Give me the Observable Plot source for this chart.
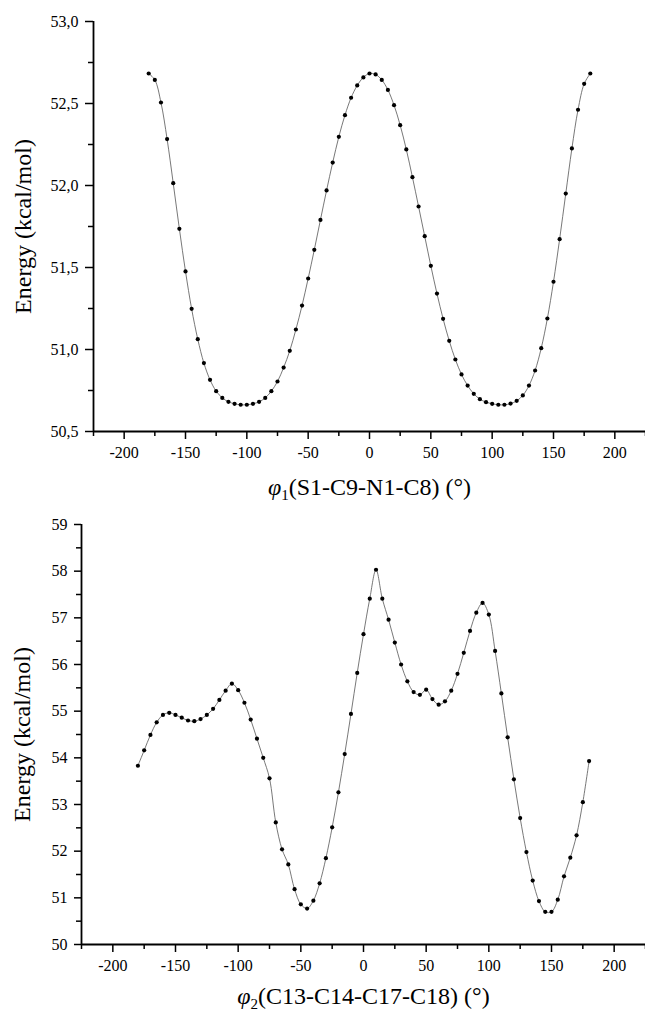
<!DOCTYPE html>
<html>
<head>
<meta charset="utf-8">
<script src="https://cdn.jsdelivr.net/npm/d3@7"></script>
<script src="https://cdn.jsdelivr.net/npm/@observablehq/plot@0.6"></script>
<style>
  html, body { margin: 0; padding: 0; background: #fff; }
  #chart svg { display: block; }
</style>
</head>
<body>
<div id="chart"></div>
<script>
// Dihedral angles (°)
const angles = [-180,-175,-170,-165,-160,-155,-150,-145,-140,-135,-130,-125,-120,-115,-110,-105,-100,-95,-90,-85,-80,-75,-70,-65,-60,-55,-50,-45,-40,-35,-30,-25,-20,-15,-10,-5,0,5,10,15,20,25,30,35,40,45,50,55,60,65,70,75,80,85,90,95,100,105,110,115,120,125,130,135,140,145,150,155,160,165,170,175,180];

// φ1 scan energies (kcal/mol)
const energyPhi1 = [52.683,52.644,52.506,52.283,52.014,51.736,51.476,51.248,51.063,50.917,50.815,50.746,50.705,50.681,50.669,50.663,50.663,50.669,50.681,50.705,50.746,50.805,50.890,50.992,51.122,51.268,51.433,51.608,51.790,51.970,52.140,52.297,52.429,52.535,52.610,52.659,52.683,52.677,52.644,52.583,52.490,52.368,52.220,52.051,51.872,51.691,51.510,51.341,51.187,51.053,50.939,50.848,50.780,50.730,50.697,50.679,50.669,50.663,50.663,50.670,50.687,50.720,50.780,50.872,51.008,51.189,51.413,51.673,51.951,52.226,52.462,52.620,52.683];

// φ2 scan energies (kcal/mol)
const energyPhi2 = [53.83,54.16,54.49,54.76,54.92,54.965,54.92,54.86,54.80,54.785,54.83,54.92,55.05,55.24,55.44,55.59,55.45,55.18,54.82,54.41,54.00,53.56,52.615,52.04,51.715,51.185,50.86,50.77,50.94,51.31,51.85,52.51,53.26,54.08,54.94,55.82,56.65,57.41,58.03,57.41,56.96,56.47,56.00,55.64,55.41,55.35,55.46,55.26,55.14,55.21,55.44,55.80,56.25,56.72,57.11,57.32,57.07,56.29,55.38,54.44,53.54,52.71,51.98,51.37,50.93,50.70,50.70,50.96,51.46,51.86,52.34,53.05,53.93];

// Axes
const xDomain = [-225, 225];
const xMajorTicks = [-200,-150,-100,-50,0,50,100,150,200];
const xMinorTicks = [-225,-175,-125,-75,-25,25,75,125,175,225];

const yDomain1 = [50.5, 53.0];
const yMajorTicks1 = [50.5,51.0,51.5,52.0,52.5,53.0];
const yMinorTicks1 = [50.75,51.25,51.75,52.25,52.75];

const yDomain2 = [50, 59];
const yMajorTicks2 = [50,51,52,53,54,55,56,57,58,59];
const yMinorTicks2 = [50.5,51.5,52.5,53.5,54.5,55.5,56.5,57.5,58.5];

const yTitle = "Energy (kcal/mol)";
const xTitle1 = "φ1(S1-C9-N1-C8) (°)";
const xTitle2 = "φ2(C13-C14-C17-C18) (°)";

const FONT = "'Liberation Serif', 'Times New Roman', Times, serif";

function panel({energies, yDomain, yMajor, yMinor, yFmt, xTitle, height, mTop, mBottom, mLeft, yTick, yPad, xTitleDy, yTitleDx}) {
  const data = angles.map((a, i) => ({angle: a, energy: energies[i]}));
  const svg = Plot.plot({
    width: 645,
    height,
    marginTop: mTop,
    marginBottom: mBottom,
    marginLeft: mLeft,
    marginRight: 0,
    style: {fontFamily: FONT, background: "#fff", color: "#000", overflow: "visible"},
    x: {domain: xDomain},
    y: {domain: yDomain},
    marks: [
      Plot.axisX(xMajorTicks, {anchor: "bottom", tickSize: 8, tickPadding: 7, strokeWidth: 1.5, fontSize: 16, fontFamily: FONT, tickFormat: d => String(d), label: null}),
      Plot.axisX(xMinorTicks, {anchor: "bottom", tickSize: 5, strokeWidth: 1.5, text: null, label: null}),
      Plot.axisY(yMajor, {anchor: "left", tickSize: yTick, tickPadding: yPad, strokeWidth: 1.5, fontSize: 16, fontFamily: FONT, tickFormat: yFmt, label: null}),
      Plot.axisY(yMinor, {anchor: "left", tickSize: 5, strokeWidth: 1.5, text: null, label: null}),
      Plot.ruleX([xDomain[0]], {stroke: "#000", strokeWidth: 1.8}),
      Plot.ruleY([yDomain[0]], {stroke: "#000", strokeWidth: 1.8}),
      Plot.line(data, {x: "angle", y: "energy", stroke: "#555", strokeWidth: 0.8, curve: "catmull-rom"}),
      Plot.dot(data, {x: "angle", y: "energy", r: 2.1, fill: "#000", stroke: "none"}),
      Plot.text([yTitle], {frameAnchor: "left", rotate: -90, dx: yTitleDx, fontSize: 24, fontFamily: FONT, fill: "#000", textAnchor: "middle"}),
      Plot.text([xTitle], {frameAnchor: "bottom", lineAnchor: "bottom", dy: xTitleDy, fontSize: 24, fontFamily: FONT, fill: "#000", textAnchor: "middle"})
    ]
  });
  // Style the φ with subscript index
  d3.select(svg).selectAll("text").each(function() {
    const t = this.textContent;
    if (t === xTitle) {
      const sel = d3.select(this);
      sel.text(null);
      sel.append("tspan").attr("font-style", "italic").text(t[0]);
      sel.append("tspan").attr("font-size", 15).attr("dy", 5).text(t[1]);
      sel.append("tspan").attr("dy", -5).text(t.slice(2));
    }
  });
  return svg;
}

const comma1 = d => d.toFixed(1).replace(".", ",");
const chart = document.getElementById("chart");

chart.appendChild(panel({
  energies: energyPhi1, yDomain: yDomain1, yMajor: yMajorTicks1, yMinor: yMinorTicks1, yFmt: comma1,
  xTitle: xTitle1, height: 510, mTop: 21, mBottom: 79, mLeft: 93, yTick: 8, yPad: 7, xTitleDy: 63, yTitleDx: -70
}));
chart.appendChild(panel({
  energies: energyPhi2, yDomain: yDomain2, yMajor: yMajorTicks2, yMinor: yMinorTicks2, yFmt: d => String(d),
  xTitle: xTitle2, height: 509, mTop: 14, mBottom: 75, mLeft: 81, yTick: 7, yPad: 7, xTitleDy: 59, yTitleDx: -59
}));
</script>
</body>
</html>
